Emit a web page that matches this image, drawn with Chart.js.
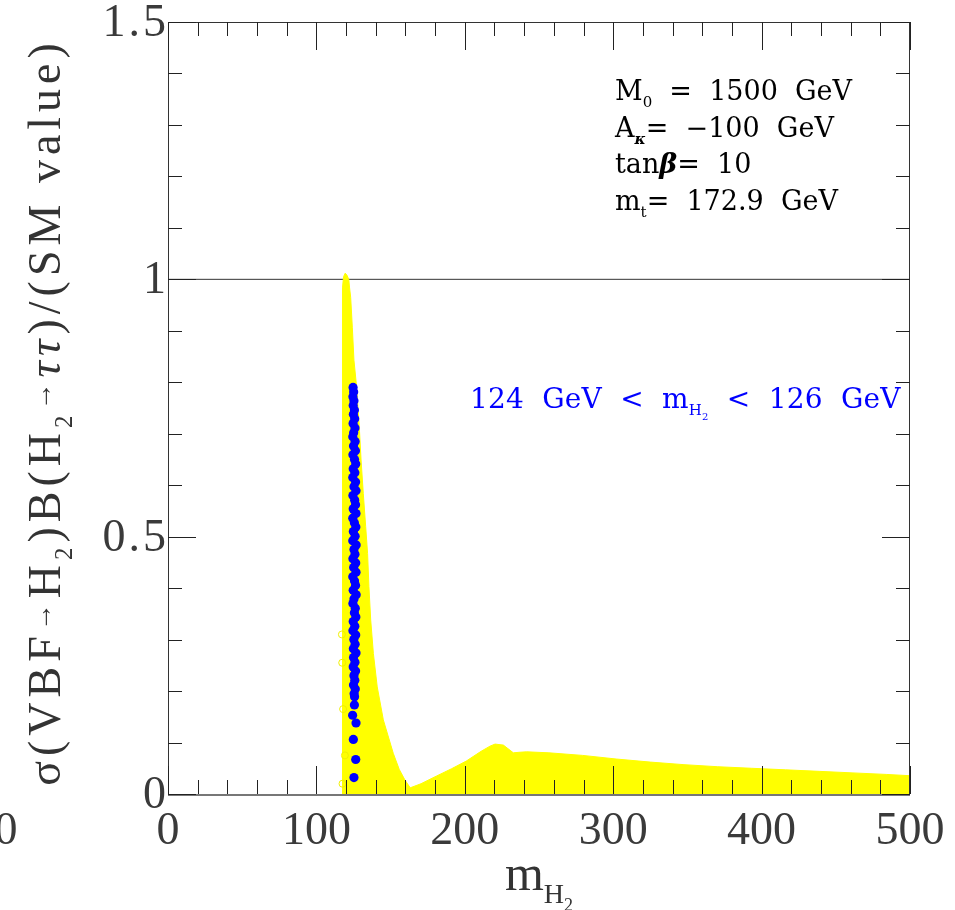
<!DOCTYPE html>
<html>
<head>
<meta charset="utf-8">
<script src="https://cdn.jsdelivr.net/npm/chart.js@4.4.1/dist/chart.umd.min.js"></script>
<style>
  html, body { margin: 0; padding: 0; background: #fff; }
</style>
</head>
<body>
<canvas id="chart" width="955" height="910"></canvas>
<script>
// upper edge of the scanned region: m_H2 (GeV) vs ratio to the SM value
const envelopeMass = [117.6, 117.6, 118.3, 119.4, 120.6, 121.8, 122.3, 123.1, 124.2, 125.3,
                      127.1, 128.9, 130.1, 131.6, 133.2, 134.5, 135.4, 136.6, 138.4, 141.0,
                      145.1, 151.8, 155.8, 159.7, 163.2, 170.5, 181.0, 191.0, 201.0, 211.0,
                      217.0, 220.4, 226.0, 230.5, 232.7, 236.5, 241.7, 256.7, 279.4, 302.0,
                      325.0, 347.7, 370.5, 393.3, 416.0, 438.8, 461.6, 484.4, 500.0, 500.0];
const envelopeRatio = [0.000, 0.985, 1.005, 1.012, 1.008, 1.000, 0.985, 0.965, 0.907, 0.843,
                       0.791, 0.713, 0.649, 0.584, 0.520, 0.467, 0.403, 0.338, 0.273, 0.208,
                       0.144, 0.079, 0.048, 0.027, 0.012, 0.020, 0.035, 0.049, 0.064, 0.083,
                       0.093, 0.097, 0.095, 0.085, 0.080, 0.081, 0.082, 0.080, 0.075, 0.068,
                       0.062, 0.057, 0.053, 0.050, 0.047, 0.044, 0.041, 0.038, 0.0355, 0.000];

// points with 124 GeV < m_H2 < 126 GeV
const hitMass = [124.7, 125.1, 124.6, 125.3, 124.8, 125.6, 124.9, 125.8, 124.7, 126.0,
                 125.1, 124.5, 126.1, 125.0, 126.3, 124.6, 125.7, 126.5, 124.8, 125.9,
                 124.5, 126.4, 125.3, 126.7, 124.6, 125.8, 126.4, 124.8, 126.7, 124.5,
                 125.6, 126.6, 124.9, 126.1, 124.5, 126.8, 125.3, 126.0, 124.6, 126.5,
                 125.1, 126.7, 124.5, 125.7, 126.4, 124.8, 126.8, 125.3, 124.6, 126.2,
                 125.6, 126.6, 124.8, 125.9, 124.6, 126.5, 125.2, 126.1, 124.9, 126.7,
                 125.0, 126.0, 124.8, 126.4, 125.3, 125.9, 125.0, 126.2, 125.4, 125.7,
                 125.6, 124.4, 126.7, 124.9, 126.5, 125.3];
const hitRatio = [0.790, 0.781, 0.772, 0.764, 0.755, 0.746, 0.738, 0.729, 0.720, 0.711,
                  0.702, 0.694, 0.685, 0.676, 0.667, 0.659, 0.650, 0.641, 0.632, 0.624,
                  0.615, 0.606, 0.597, 0.589, 0.580, 0.571, 0.562, 0.554, 0.545, 0.536,
                  0.527, 0.519, 0.510, 0.501, 0.492, 0.484, 0.475, 0.466, 0.457, 0.449,
                  0.440, 0.431, 0.422, 0.414, 0.405, 0.396, 0.387, 0.379, 0.370, 0.361,
                  0.352, 0.344, 0.335, 0.326, 0.317, 0.309, 0.300, 0.291, 0.282, 0.274,
                  0.265, 0.256, 0.247, 0.239, 0.230, 0.221, 0.212, 0.204, 0.195, 0.189,
                  0.173, 0.153, 0.138, 0.106, 0.067, 0.032];

// stray scan points near the foot of the peak
const looseMass = [117.2, 117.4, 118.0, 119.2, 117.6];
const looseRatio = [0.310, 0.255, 0.165, 0.075, 0.020];

const smValue = 1;
const xTicks = [0, 100, 200, 300, 400, 500];
const yTicks = [0, 0.5, 1, 1.5];
const yTickLabels = ['0', '0.5', '1', '1.5'];
const xMinorStep = 20;
const yMinorStep = 0.1;

const toPoints = (xs, ys) => xs.map((x, i) => ({ x, y: ys[i] }));

const SERIF = '"Liberation Serif", "DejaVu Serif", serif';
const LABEL = '"DejaVu Serif", serif';

// draws text made of [string, level] pieces; level 1/2 are sub/sub-sub scripts, 3 a small raised arrow
function drawRich(ctx, parts, x, y, size, family, align, spacing) {
    const lv = [
        { s: 1, dy: 0 },
        { s: 0.55, dy: 0.26 },
        { s: 0.36, dy: 0.42 },
        { s: 0.6, dy: -0.2 }
    ];
    ctx.letterSpacing = (spacing || 0) + 'px';
    const widths = parts.map(([t, l, st]) => {
        ctx.font = (st || '') + ' ' + Math.round(size * lv[l].s) + 'px ' + family;
        return ctx.measureText(t).width;
    });
    const total = widths.reduce((a, b) => a + b, 0);
    let cx = align === 'center' ? x - total / 2 : (align === 'right' ? x - total : x);
    ctx.textAlign = 'left';
    ctx.textBaseline = 'alphabetic';
    parts.forEach(([t, l, st], i) => {
        ctx.font = (st || '') + ' ' + Math.round(size * lv[l].s) + 'px ' + family;
        ctx.fillText(t, cx, y + lv[l].dy * size);
        cx += widths[i];
    });
    ctx.letterSpacing = '0px';
}

const framePlugin = {
    id: 'frame',
    afterDraw(chart) {
        const { ctx, chartArea: a, scales: { x, y } } = chart;
        ctx.save();

        // frame
        ctx.strokeStyle = '#333';
        ctx.lineWidth = 1;
        ctx.strokeRect(a.left + 0.5, a.top + 0.5, a.right - a.left - 1, a.bottom - a.top);
        ctx.strokeStyle = '#777';
        ctx.lineWidth = 2;
        ctx.beginPath();
        ctx.moveTo(a.left, a.bottom + 1);
        ctx.lineTo(a.right, a.bottom + 1);
        ctx.stroke();

        // inward ticks on all four sides
        ctx.strokeStyle = '#222';
        ctx.lineWidth = 1;
        ctx.beginPath();
        for (let v = 0; v <= 500 + 1e-6; v += xMinorStep) {
            const px = Math.round(x.getPixelForValue(v)) + 0.5;
            const len = xTicks.includes(Math.round(v)) ? 28 : 14;
            ctx.moveTo(px, a.bottom); ctx.lineTo(px, a.bottom - len);
            ctx.moveTo(px, a.top); ctx.lineTo(px, a.top + len);
        }
        for (let k = 0; k <= 15; k++) {
            const v = k * yMinorStep;
            const py = Math.round(y.getPixelForValue(v)) + 0.5;
            const len = k % 5 === 0 ? 28 : 14;
            ctx.moveTo(a.left, py); ctx.lineTo(a.left + len, py);
            ctx.moveTo(a.right, py); ctx.lineTo(a.right - len, py);
        }
        ctx.stroke();

        // tick labels
        ctx.fillStyle = '#3a3a3a';
        ctx.font = '46px ' + SERIF;
        ctx.textBaseline = 'middle';
        ctx.textAlign = 'center';
        xTicks.forEach(v => ctx.fillText(String(v), x.getPixelForValue(v), a.bottom + 38));
        ctx.fillText('0', 6, a.bottom + 38);
        ctx.textAlign = 'right';
        ctx.letterSpacing = '3px';
        yTicks.forEach((v, i) => ctx.fillText(yTickLabels[i], a.left + 1, y.getPixelForValue(v) + 2));
        ctx.letterSpacing = '0px';

        // axis titles
        ctx.fillStyle = '#333';
        drawRich(ctx, [['m', 0], ['H', 1], ['2', 2]], (a.left + a.right) / 2, a.bottom + 96, 50, SERIF, 'center');
        ctx.save();
        ctx.translate(60, (a.top + a.bottom) / 2 + 4);
        ctx.rotate(-Math.PI / 2);
        drawRich(ctx, [['σ(VBF', 0], ['→', 3], ['H', 0], ['2', 1], [')B(H', 0], ['2', 1],
                       ['→', 3], ['ττ', 0, 'italic'], [')/(SM value)', 0]],
                 0, 0, 46, SERIF, 'center', 5);
        ctx.restore();

        // model parameters
        ctx.fillStyle = '#000';
        const px0 = 615;
        drawRich(ctx, [['M', 0], ['0', 1], ['  =  1500  GeV', 0]], px0, 100, 27, LABEL, 'left');
        drawRich(ctx, [['A', 0], ['κ', 1, 'italic bold'], ['=  −100  GeV', 0]], px0, 137, 27, LABEL, 'left');
        drawRich(ctx, [['tan', 0], ['β', 0, 'italic bold'], ['=  10', 0]], px0, 173, 27, LABEL, 'left');
        drawRich(ctx, [['m', 0], ['t', 1], ['=  172.9  GeV', 0]], px0, 210, 27, LABEL, 'left');

        ctx.fillStyle = '#0000ff';
        drawRich(ctx, [['124  GeV  <  m', 0], ['H', 1], ['2', 2], ['  <  126  GeV', 0]],
                 470, 408, 28, LABEL, 'left', 0.2);

        ctx.restore();
    }
};

new Chart(document.getElementById('chart'), {
    type: 'line',
    data: {
        datasets: [
            {
                label: 'SM',
                data: toPoints([0, 500], [smValue, smValue]),
                borderColor: '#333',
                borderWidth: 1,
                pointRadius: 0,
                fill: false,
                order: 4
            },
            {
                label: 'scan',
                data: toPoints(envelopeMass, envelopeRatio),
                borderColor: '#ffff00',
                backgroundColor: '#ffff00',
                borderWidth: 1,
                pointRadius: 0,
                tension: 0,
                fill: 'origin',
                order: 3
            },
            {
                label: 'loose',
                data: toPoints(looseMass, looseRatio),
                showLine: false,
                pointRadius: 3.5,
                pointBorderWidth: 1,
                pointBorderColor: '#f0f000',
                pointBackgroundColor: 'rgba(255,255,255,0)',
                order: 2
            },
            {
                label: '124 GeV < m_H2 < 126 GeV',
                data: toPoints(hitMass, hitRatio),
                showLine: false,
                pointRadius: 4.6,
                pointBorderWidth: 0,
                pointBackgroundColor: '#0000ff',
                pointBorderColor: '#0000ff',
                order: 1
            }
        ]
    },
    options: {
        responsive: false,
        animation: false,
        devicePixelRatio: 1,
        layout: { padding: { left: 168, right: 45, top: 22, bottom: 116 } },
        scales: {
            x: { type: 'linear', min: 0, max: 500, display: false },
            y: { type: 'linear', min: 0, max: 1.5, display: false }
        },
        plugins: {
            legend: { display: false },
            tooltip: { enabled: false }
        }
    },
    plugins: [framePlugin]
});
</script>
</body>
</html>
